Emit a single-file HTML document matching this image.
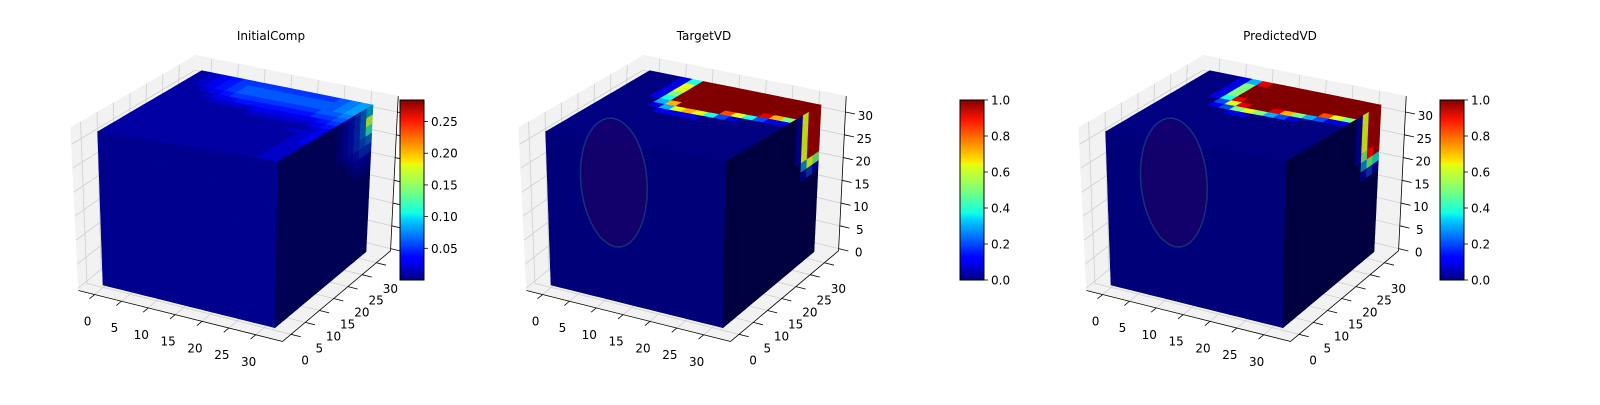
<!DOCTYPE html>
<html><head><meta charset="utf-8"><style>
html,body{margin:0;padding:0;background:#fff;}
svg text{font-family:"DejaVu Sans","Liberation Sans",sans-serif;font-size:12px;fill:#000;}
</style></head><body>
<svg id="fig" width="1600" height="400" viewBox="0 0 1600 400" xmlns="http://www.w3.org/2000/svg">
<defs>
<linearGradient id="jet" x1="0" y1="1" x2="0" y2="0">
<stop offset="0" stop-color="#000080"/><stop offset="0.11" stop-color="#0000ff"/><stop offset="0.125" stop-color="#0000ff"/><stop offset="0.34" stop-color="#00d4ff"/><stop offset="0.37" stop-color="#10ffe6"/><stop offset="0.5" stop-color="#7dff7a"/><stop offset="0.64" stop-color="#e6ff10"/><stop offset="0.66" stop-color="#ffe600"/><stop offset="0.89" stop-color="#ff1400"/><stop offset="1" stop-color="#800000"/>
</linearGradient>
</defs>
</svg>
<script>
// ---- data ----
const titles = ["InitialComp","TargetVD","PredictedVD"];
const vmaxs = [28.4, 10, 10];
const frontBase = [0.6, 0, 0];
const cbTicks0 = [5,10,15,20,25];
const cbLabels0 = ["0.05","0.10","0.15","0.20","0.25"];
const cbTicks1 = [0,2,4,6,8,10];
const cbLabels1 = ["0.0","0.2","0.4","0.6","0.8","1.0"];
const axisTicks = [0,5,10,15,20,25,30];
const ellipses = [null,[12,24,6,13],[12,24,6,13]];
// top faces: rows j = y bins (0 front .. 15 back), cols i = x bins
const topInit = [
[1,1,1,1,1,1,1,1,1,1,1,1,1,1,2,2],[1,1,1,1,1,1,1,1,1,1,1,1,1,1,2,2],[1,1,1,1,1,1,1,1,1,1,1,1,1,1,2,2],[1,1,1,1,1,1,1,1,1,1,1,1,1,1,2,2],
[1,1,1,1,1,1,1,1,1,1,1,1,1,1,2,2],[1,1,1,1,1,1,1,1,1,1,1,1,1,1,2,3],[1,1,1,1,1,1,1,1,1,1,1,1,1,1,2,3],[1,1,1,1,1,1,1,1,1,1,1,1,1,2,2,3],
[1,1,1,1,1,1,1,1,1,1,1,1,1,1,2,3],[1,1,1,1,1,1,1,1,2,2,2,2,2,2,3,4],[1,1,1,1,2,2,2,2,3,3,3,3,3,3,4,5],[1,1,1,2,3,3,4,4,4,4,4,4,4,5,5,6],
[1,1,2,3,4,5,5,5,5,5,5,5,5,6,6,7],[1,2,3,4,5,6,6,6,6,6,6,6,6,6,7,8],[1,2,3,4,5,6,6,6,6,6,6,6,6,6,7,8],[1,2,3,4,5,5,5,5,5,5,5,5,5,6,7,8]];
const topTarget = [
[0,0,0,0,0,0,0,0,0,0,0,0,0,0,0,0],[0,0,0,0,0,0,0,0,0,0,0,0,0,0,0,0],[0,0,0,0,0,0,0,0,0,0,0,0,0,0,0,0],[0,0,0,0,0,0,0,0,0,0,0,0,0,0,0,0],
[0,0,0,0,0,0,0,0,0,0,0,0,0,0,0,0],[0,0,0,0,0,0,0,0,0,0,0,0,0,0,0,0],[0,0,0,0,0,0,0,0,0,0,0,0,0,0,0,0],[0,0,0,0,0,0,0,0,0,0,0,0,0,0,0,0],
[0,0,0,0,0,1,1,1,1,0,0,0,0,0,0,0],[0,0,0,0,1,3,6,7,6,4,2,1,0,0,0,0],[0,0,0,0,3,7,10,10,10,10,8,6,4,2,1,1],[0,0,0,1,4,10,10,10,10,10,10,10,10,9,7,5],
[0,0,0,1,5,10,10,10,10,10,10,10,10,10,10,10],[0,0,0,1,6,10,10,10,10,10,10,10,10,10,10,10],[0,0,0,1,6,10,10,10,10,10,10,10,10,10,10,10],[0,0,0,1,4,10,10,10,10,10,10,10,10,10,10,10]];
const topPred = [
[0,0,0,0,0,0,0,0,0,0,0,0,0,0,0,0],[0,0,0,0,0,0,0,0,0,0,0,0,0,0,0,0],[0,0,0,0,0,0,0,0,0,0,0,0,0,0,0,0],[0,0,0,0,0,0,0,0,0,0,0,0,0,0,0,0],
[0,0,0,0,0,0,0,0,0,0,0,0,0,0,0,0],[0,0,0,0,0,0,0,0,0,0,0,0,0,0,0,0],[0,0,0,0,0,0,0,0,0,0,0,0,0,0,0,0],[0,0,0,0,0,0,0,0,0,0,0,0,0,0,0,0],
[0,0,0,0,0,0,1,1,0,0,0,0,0,0,0,0],[0,0,0,0,1,2,5,6,5,3,2,1,0,0,0,0],[0,0,0,0,2,6,9,10,10,9,7,5,3,2,1,1],[0,0,0,1,4,9,10,10,10,10,10,10,10,8,6,5],
[0,0,0,1,5,10,10,10,10,10,10,10,10,10,10,10],[0,0,0,1,5,10,10,10,10,10,10,10,10,10,10,10],[0,0,0,1,5,10,10,10,10,10,10,10,10,10,10,10],[0,0,0,1,3,9,10,10,10,10,10,10,10,10,10,10]];
// right faces: rows l = z bins (0 bottom .. 15 top), cols k = y bins
const rightInit = [
[1,1,1,1,1,1,1,1,1,1,1,1,1,1,1,1],[1,1,1,1,1,1,1,1,1,1,1,1,1,1,1,1],[1,1,1,1,1,1,1,1,1,1,1,1,1,1,1,1],[1,1,1,1,1,1,1,1,1,1,1,1,1,1,1,1],
[1,1,1,1,1,1,1,1,1,1,1,1,1,1,1,1],[1,1,1,1,1,1,1,1,1,1,1,1,1,1,1,1],[1,1,1,1,1,1,1,1,1,1,1,1,1,1,1,1],[1,1,1,1,1,1,1,1,1,1,1,1,1,1,1,1],
[1,1,1,1,1,1,1,1,1,1,1,1,1,1,1,1],[1,1,1,1,1,1,1,1,1,1,1,1,1,2,2,2],[1,1,1,1,1,1,1,1,1,1,1,1,2,3,3,3],[1,1,1,1,1,1,1,1,1,1,1,2,3,4,5,5],
[1,1,1,1,1,1,1,1,1,1,2,3,4,5,6,7],[1,1,1,1,1,1,1,1,1,1,2,3,4,5,7,12],[1,1,1,1,1,1,1,1,1,1,2,3,4,5,7,16],[1,1,1,1,1,1,1,1,1,1,2,3,4,5,7,9]];
const rightTarget = [
[0,0,0,0,0,0,0,0,0,0,0,0,0,0,0,0],[0,0,0,0,0,0,0,0,0,0,0,0,0,0,0,0],[0,0,0,0,0,0,0,0,0,0,0,0,0,0,0,0],[0,0,0,0,0,0,0,0,0,0,0,0,0,0,0,0],
[0,0,0,0,0,0,0,0,0,0,0,0,0,0,0,0],[0,0,0,0,0,0,0,0,0,0,0,0,0,0,0,0],[0,0,0,0,0,0,0,0,0,0,0,0,0,0,0,0],[0,0,0,0,0,0,0,0,0,0,0,0,0,0,0,0],
[0,0,0,0,0,0,0,0,0,0,0,0,0,0,0,0],[0,0,0,0,0,0,0,0,0,0,0,0,0,1,2,1],[0,0,0,0,0,0,0,0,0,0,0,0,0,3,6,5],[0,0,0,0,0,0,0,0,0,0,0,0,1,6,10,10],
[0,0,0,0,0,0,0,0,0,0,0,0,1,6,10,10],[0,0,0,0,0,0,0,0,0,0,0,0,1,6,10,10],[0,0,0,0,0,0,0,0,0,0,0,0,1,6,10,10],[0,0,0,0,0,0,0,0,0,0,0,0,1,6,10,10]];
const rightPred = [
[0,0,0,0,0,0,0,0,0,0,0,0,0,0,0,0],[0,0,0,0,0,0,0,0,0,0,0,0,0,0,0,0],[0,0,0,0,0,0,0,0,0,0,0,0,0,0,0,0],[0,0,0,0,0,0,0,0,0,0,0,0,0,0,0,0],
[0,0,0,0,0,0,0,0,0,0,0,0,0,0,0,0],[0,0,0,0,0,0,0,0,0,0,0,0,0,0,0,0],[0,0,0,0,0,0,0,0,0,0,0,0,0,0,0,0],[0,0,0,0,0,0,0,0,0,0,0,0,0,0,0,0],
[0,0,0,0,0,0,0,0,0,0,0,0,0,0,0,0],[0,0,0,0,0,0,0,0,0,0,0,0,0,1,2,1],[0,0,0,0,0,0,0,0,0,0,0,0,0,3,5,4],[0,0,0,0,0,0,0,0,0,0,0,0,1,5,9,10],
[0,0,0,0,0,0,0,0,0,0,0,0,1,6,10,10],[0,0,0,0,0,0,0,0,0,0,0,0,1,6,10,10],[0,0,0,0,0,0,0,0,0,0,0,0,1,6,10,10],[0,0,0,0,0,0,0,0,0,0,0,0,1,6,10,10]];
const tops = [topInit, topTarget, topPred];
const rights = [rightInit, rightTarget, rightPred];

// ---- geometry ----
const NS = "http://www.w3.org/2000/svg";
const svg = document.getElementById("fig");
const offsets = [0, 448, 1008];
const titleX = [271, 704, 1280];
const cbX = [400, 960, 1440];
const C = [[103,285],[275,327.7],[366,251.7],[194,209],[97.7,131.7],[278,161.7],[373,105],[201.7,70.7]];
const B = {x0:-3, x1:35, y0:-3, y1:35, z0:-0.5, z1:33.5};
function bil(a,b,c,d,u,v,k){return a[k]*(1-u)*(1-v)+b[k]*u*(1-v)+c[k]*u*v+d[k]*(1-u)*v;}
function P(x,y,z,dx){
  const u=x/32,v=y/32,w=z/32;
  const bx=bil(C[0],C[1],C[2],C[3],u,v,0), by=bil(C[0],C[1],C[2],C[3],u,v,1);
  const tx=bil(C[4],C[5],C[6],C[7],u,v,0), ty=bil(C[4],C[5],C[6],C[7],u,v,1);
  return [bx*(1-w)+tx*w+dx, by*(1-w)+ty*w];
}
function jet(t){t=Math.max(0,Math.min(1,t));const c=x=>Math.max(0,Math.min(1,1.5-Math.abs(x)));return [c(4*t-3),c(4*t-2),c(4*t-1)];}
function col(v,vmax,s){const c=jet(v/vmax);return "rgb("+c.map(q=>Math.round(q*255*s)).join(",")+")";}
function pts(a){return a.map(p=>p[0].toFixed(1)+","+p[1].toFixed(1)).join(" ");}
function mk(tag,attrs,parent){const e=document.createElementNS(NS,tag);for(const k in attrs)e.setAttribute(k,attrs[k]);(parent||svg).appendChild(e);return e;}

for(let p=0;p<3;p++){
  const dx=offsets[p], vmax=vmaxs[p];
  const g=mk("g",{});
  
  
  const panes=[
    [P(B.x0,B.y0,B.z0,dx),P(B.x0,B.y1,B.z0,dx),P(B.x0,B.y1,B.z1,dx),P(B.x0,B.y0,B.z1,dx)],
    [P(B.x0,B.y1,B.z0,dx),P(B.x1,B.y1,B.z0,dx),P(B.x1,B.y1,B.z1,dx),P(B.x0,B.y1,B.z1,dx)],
    [P(B.x0,B.y0,B.z0,dx),P(B.x1,B.y0,B.z0,dx),P(B.x1,B.y1,B.z0,dx),P(B.x0,B.y1,B.z0,dx)]];
  panes.forEach((q,i)=>{
    const e=mk("polygon",{points:pts(q),fill:"#f2f2f2",stroke:"#f2f2f2","stroke-width":"0.5"},g);
    
    
  });
  axisTicks.forEach(t=>{
    const L=[[P(B.x0,t,B.z0,dx),P(B.x0,t,B.z1,dx)],[P(B.x0,B.y0,t,dx),P(B.x0,B.y1,t,dx)],
             [P(t,B.y1,B.z0,dx),P(t,B.y1,B.z1,dx)],[P(B.x0,B.y1,t,dx),P(B.x1,B.y1,t,dx)],
             [P(t,B.y0,B.z0,dx),P(t,B.y1,B.z0,dx)],[P(B.x0,t,B.z0,dx),P(B.x1,t,B.z0,dx)]];
    L.forEach(l=>{
      const e=mk("line",{x1:l[0][0],y1:l[0][1],x2:l[1][0],y2:l[1][1],stroke:"#cfcfcf","stroke-width":"0.8"},g);
      
      
    });
  });
  const top=tops[p], right=rights[p];
  for(let j=0;j<16;j++)for(let i=0;i<16;i++){
    const x=i*2,y=j*2;
    const e=mk("polygon",{points:pts([P(x,y,32,dx),P(x+2,y,32,dx),P(x+2,y+2,32,dx),P(x,y+2,32,dx)]),fill:col(top[j][i],vmax,1),stroke:col(top[j][i],vmax,1),"stroke-width":"0.6"},g);
    
    
  }
  for(let l=0;l<16;l++)for(let i=0;i<16;i++){
    const x=i*2,z=l*2;
    const f=col(frontBase[p],vmax,0.95);
    const e=mk("polygon",{points:pts([P(x,0,z,dx),P(x+2,0,z,dx),P(x+2,0,z+2,dx),P(x,0,z+2,dx)]),fill:f,stroke:f,"stroke-width":"0.6"},g);
    
    
  }
  for(let l=0;l<16;l++)for(let k=0;k<16;k++){
    const y=k*2,z=l*2;
    const t=Math.min(1,right[l][k]/vmax);
    const f=col(right[l][k],vmax,0.5+0.55*t);
    const e=mk("polygon",{points:pts([P(32,y,z,dx),P(32,y+2,z,dx),P(32,y+2,z+2,dx),P(32,y,z+2,dx)]),fill:f,stroke:f,"stroke-width":"0.6"},g);
    
    
  }
  if(ellipses[p]){
    const [cx,cz,rx,rz]=ellipses[p]; const a=[];
    for(let s=0;s<40;s++){const th=s/40*2*Math.PI;a.push(P(cx+rx*Math.cos(th),0,cz+rz*Math.sin(th),dx));}
    const e=mk("polygon",{points:pts(a),fill:"rgba(110,0,40,0.16)",stroke:"rgba(40,140,150,0.35)","stroke-width":"1.5"},g);
    
    
  }
  const ax=[[P(B.x0,B.y0,B.z0,dx),P(B.x1,B.y0,B.z0,dx)],[P(B.x1,B.y0,B.z0,dx),P(B.x1,B.y1,B.z0,dx)],[P(B.x1,B.y1,B.z0,dx),P(B.x1,B.y1,B.z1,dx)]];
  ax.forEach(l=>{
    const e=mk("line",{x1:l[0][0],y1:l[0][1],x2:l[1][0],y2:l[1][1],stroke:"#000","stroke-width":"0.8"},g);
    
    
  });
  axisTicks.forEach((t,ti)=>{
    let a=P(t,B.y0,B.z0,dx),b=P(t,B.y0-1.8,B.z0,dx);
    let e=mk("line",{x1:a[0],y1:a[1],x2:b[0],y2:b[1],stroke:"#000","stroke-width":"0.8"},g);
    
    
    let tx=mk("text",{x:a[0]-7,y:a[1]+31,"text-anchor":"middle"},g); tx.textContent=String(t);
    
    
    a=P(B.x1,t,B.z0,dx); b=P(B.x1+1.8,t,B.z0,dx);
    e=mk("line",{x1:a[0],y1:a[1],x2:b[0],y2:b[1],stroke:"#000","stroke-width":"0.8"},g);
    
    
    tx=mk("text",{x:a[0]+14,y:a[1]+30,"text-anchor":"middle"},g); tx.textContent=String(t);
    
    
    a=P(B.x1,B.y1,t,dx); b=P(B.x1+1.8,B.y1,t,dx);
    e=mk("line",{x1:a[0],y1:a[1],x2:b[0],y2:b[1],stroke:"#000","stroke-width":"0.8"},g);
    
    
    if(p>0){
      tx=mk("text",{x:a[0]+20,y:a[1]+8,"text-anchor":"middle"},g); tx.textContent=String(t);
      
      
    }
  });
  const tt=mk("text",{x:titleX[p],y:40,"text-anchor":"middle"},g); tt.textContent=titles[p];
  
  
  const cx=cbX[p];
  const cb=mk("rect",{x:cx,y:100,width:24,height:180,fill:"url(#jet)",stroke:"#000","stroke-width":"1"},g);
  
  
  const ticks=p===0?cbTicks0:cbTicks1, labs=p===0?cbLabels0:cbLabels1;
  ticks.forEach((v,i)=>{
    const y=280-v/vmax*180;
    const e=mk("line",{x1:cx+24,y1:y,x2:cx+28,y2:y,stroke:"#000","stroke-width":"0.8"},g);
    
    
    const t=mk("text",{x:cx+31,y:y+4.5},g); t.textContent=labs[i];
    
    
  });
}
</script>
</body></html>
